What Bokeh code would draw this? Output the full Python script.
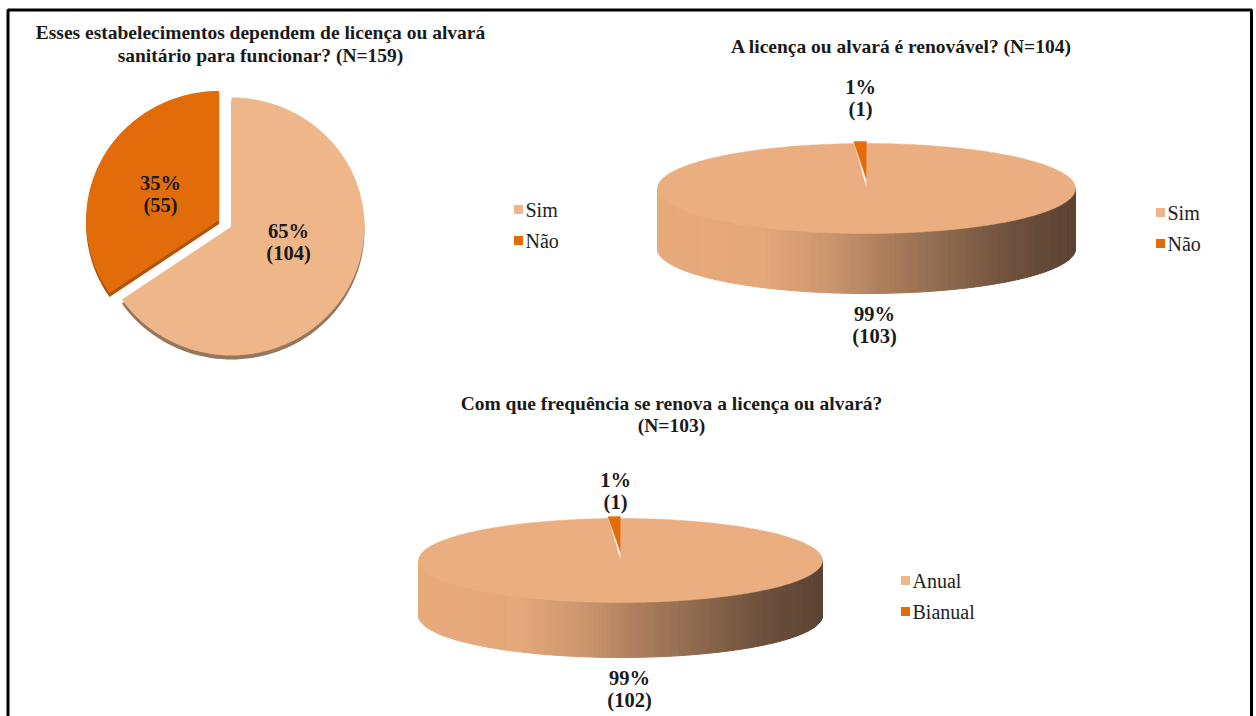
import math
from bokeh.plotting import figure
from bokeh.models import Range1d
from bokeh.core.properties import value
from bokeh.embed import file_html
from bokeh.resources import INLINE

# ---------------- data ----------------
q1_title = ["Esses estabelecimentos dependem de licença ou alvará",
            "sanitário para funcionar? (N=159)"]
q1_labels = ["Sim", "Não"]
q1_counts = [104, 55]

q2_title = ["A licença ou alvará é renovável? (N=104)"]
q2_labels = ["Sim", "Não"]
q2_counts = [103, 1]

q3_title = ["Com que frequência se renova a licença ou alvará?", "(N=103)"]
q3_labels = ["Anual", "Bianual"]
q3_counts = [102, 1]

# ---------------- style ----------------
W, H = 1256, 716
LIGHT = "#EFB68A"
LIGHT3D = "#EAAE80"
ORANGE = "#E36C0A"
SERIF = value("Liberation Serif")

p = figure(width=W, height=H, x_range=Range1d(0, W), y_range=Range1d(0, H),
           output_backend="svg", toolbar_location=None, min_border=0)
p.axis.visible = False
p.grid.visible = False
p.outline_line_color = None
p.background_fill_color = "white"


def pcts(counts):
    tot = sum(counts)
    return [round(100 * c / tot) for c in counts]


def slice_angles(counts):
    tot = sum(counts)
    out = []
    a = 90.0
    for c in counts:
        span = 360.0 * c / tot
        out.append((a - span, a))  # CCW from start to end (degrees)
        a -= span
    return out


def wedge_poly(cx, cy, rx, ry, a0, a1, n=160, vx=None, vy=None, ox=0, oy=0):
    # cx, cy in screen coords; returns data coords
    if vx is None:
        vx, vy = cx, cy
    xs = [vx]
    ys = [vy]
    steps = max(2, int(n * (a1 - a0) / 360) + 2)
    for i in range(steps + 1):
        a = math.radians(a0 + (a1 - a0) * i / steps)
        xs.append(cx + ox + rx * math.cos(a))
        ys.append(cy + oy - ry * math.sin(a))
    return xs, [H - y for y in ys]


def lerp_color(t):
    stops = [(0.0, (233, 171, 125)), (0.25, (229, 168, 122)), (0.4, (206, 152, 112)),
             (0.55, (172, 126, 93)), (0.7, (140, 104, 78)), (0.85, (110, 81, 61)),
             (1.0, (92, 68, 52))]
    for (t0, c0), (t1, c1) in zip(stops[:-1], stops[1:]):
        if t <= t1:
            f = (t - t0) / (t1 - t0) if t1 > t0 else 0
            return "#%02x%02x%02x" % tuple(int(c0[k] + (c1[k] - c0[k]) * f) for k in range(3))
    return "#%02x%02x%02x" % stops[-1][1]


def legend(x, ys, labels, colors):
    p.scatter(x=[x] * len(labels), y=[H - y for y in ys], marker="square", size=9,
              fill_color=colors, line_color=None)
    p.text(x=[x + 7] * len(labels), y=[H - y for y in ys], text=labels,
           text_font=SERIF, text_font_size="20px", text_color="#222222",
           text_baseline="middle", text_align="left")


def title(x, ys, lines, size="19.5px"):
    p.text(x=[x] * len(lines), y=[H - y for y in ys], text=lines, text_font=SERIF,
           text_font_style="bold", text_font_size=size, text_color="#1a1a1a",
           text_align="center", text_baseline="middle")


def label(x, y, pct, cnt):
    p.text(x=[x, x], y=[H - y, H - y - 22], text=["%d%%" % pct, "(%d)" % cnt],
           text_font=SERIF, text_font_style="bold", text_font_size="20.5px",
           text_color="#1a1a1a", text_align="center", text_baseline="middle")


def pie3d(cx, cy, rx, ry, depth, counts):
    # side strips (front half)
    N = 140
    xs_all, ys_all, cols = [], [], []
    for k in range(N):
        a0 = math.pi + k * math.pi / N
        a1 = math.pi + (k + 1) * math.pi / N
        x0, x1 = cx + rx * math.cos(a0), cx + rx * math.cos(a1)
        y0, y1 = cy - ry * math.sin(a0), cy - ry * math.sin(a1)
        xs_all.append([x0, x1, x1, x0])
        ys_all.append([H - y0, H - y1, H - y1 - depth, H - y0 - depth])
        cols.append(lerp_color(((x0 + x1) / 2 - (cx - rx)) / (2 * rx)))
    p.patches(xs=xs_all, ys=ys_all, fill_color=cols, line_color=cols, line_width=1)
    angs = slice_angles(counts)
    # main slice
    a0, a1 = angs[0]
    xs, ys = wedge_poly(cx, cy, rx, ry, a0, a1, n=400)
    p.patch(xs, ys, fill_color=LIGHT3D, line_color=LIGHT3D, line_width=0.5)
    # small exploded slice
    a0, a1 = angs[1]
    b = math.radians((a0 + a1) / 2)
    vx = cx + 0.22 * rx * math.cos(b) * 0.2
    vy = cy - 0.22 * ry * math.sin(b)
    xs, ys = wedge_poly(cx, cy, rx, ry, a0, a1, n=400, vx=vx, vy=vy,
                        ox=0.02 * rx * math.cos(b), oy=-0.045 * ry * math.sin(b))
    p.patch(xs, ys, fill_color=ORANGE, line_color=ORANGE, line_width=0.5)


# ---------------- chart 1 ----------------
title(260, [32, 55], q1_title)
angs1 = slice_angles(q1_counts)
c1x, c1y, r1x, r1y = 231, 226, 133, 129
# Sim (not exploded) with shadow
a0, a1 = angs1[0]
xs, ys = wedge_poly(c1x, c1y + 4, r1x, r1y, a0, a1)
p.patch(xs, ys, fill_color="#8a674d", line_color=None, alpha=0.9)
xs, ys = wedge_poly(c1x, c1y, r1x, r1y, a0, a1)
p.patch(xs, ys, fill_color=LIGHT, line_color=None)
# Não (exploded along bisector)
a0, a1 = angs1[1]
b = math.radians((a0 + a1) / 2)
ex, ey = 14 * math.cos(b), -14 * math.sin(b)
xs, ys = wedge_poly(c1x + ex, c1y + ey + 4, r1x, r1y, a0, a1)
p.patch(xs, ys, fill_color="#b0560a", line_color=None)
xs, ys = wedge_poly(c1x + ex, c1y + ey, r1x, r1y, a0, a1)
p.patch(xs, ys, fill_color=ORANGE, line_color=None)
pc1 = pcts(q1_counts)
label(160, 182, pc1[1], q1_counts[1])
label(288, 230, pc1[0], q1_counts[0])
legend(518, [209, 240], q1_labels, [LIGHT, ORANGE])

# ---------------- chart 2 ----------------
title(901, [46], q2_title)
pie3d(866, 188, 209, 45, 60, q2_counts)
pc2 = pcts(q2_counts)
label(860, 86, pc2[1], q2_counts[1])
label(874, 313, pc2[0], q2_counts[0])
legend(1160, [212, 243], q2_labels, [LIGHT, ORANGE])

# ---------------- chart 3 ----------------
title(671, [403, 425], q3_title)
pie3d(620, 560, 202, 42, 55, q3_counts)
pc3 = pcts(q3_counts)
label(615, 479, pc3[1], q3_counts[1])
label(629, 677, pc3[0], q3_counts[0])
legend(905, [580, 611], q3_labels, [LIGHT, ORANGE])

# ---------------- frame ----------------
p.multi_line(xs=[[7.5, 7.5, 1251, 1251]], ys=[[0, H - 9.5, H - 9.5, 0]],
             line_color="black", line_width=3)

open("out.html", "w").write(file_html(p, INLINE))
